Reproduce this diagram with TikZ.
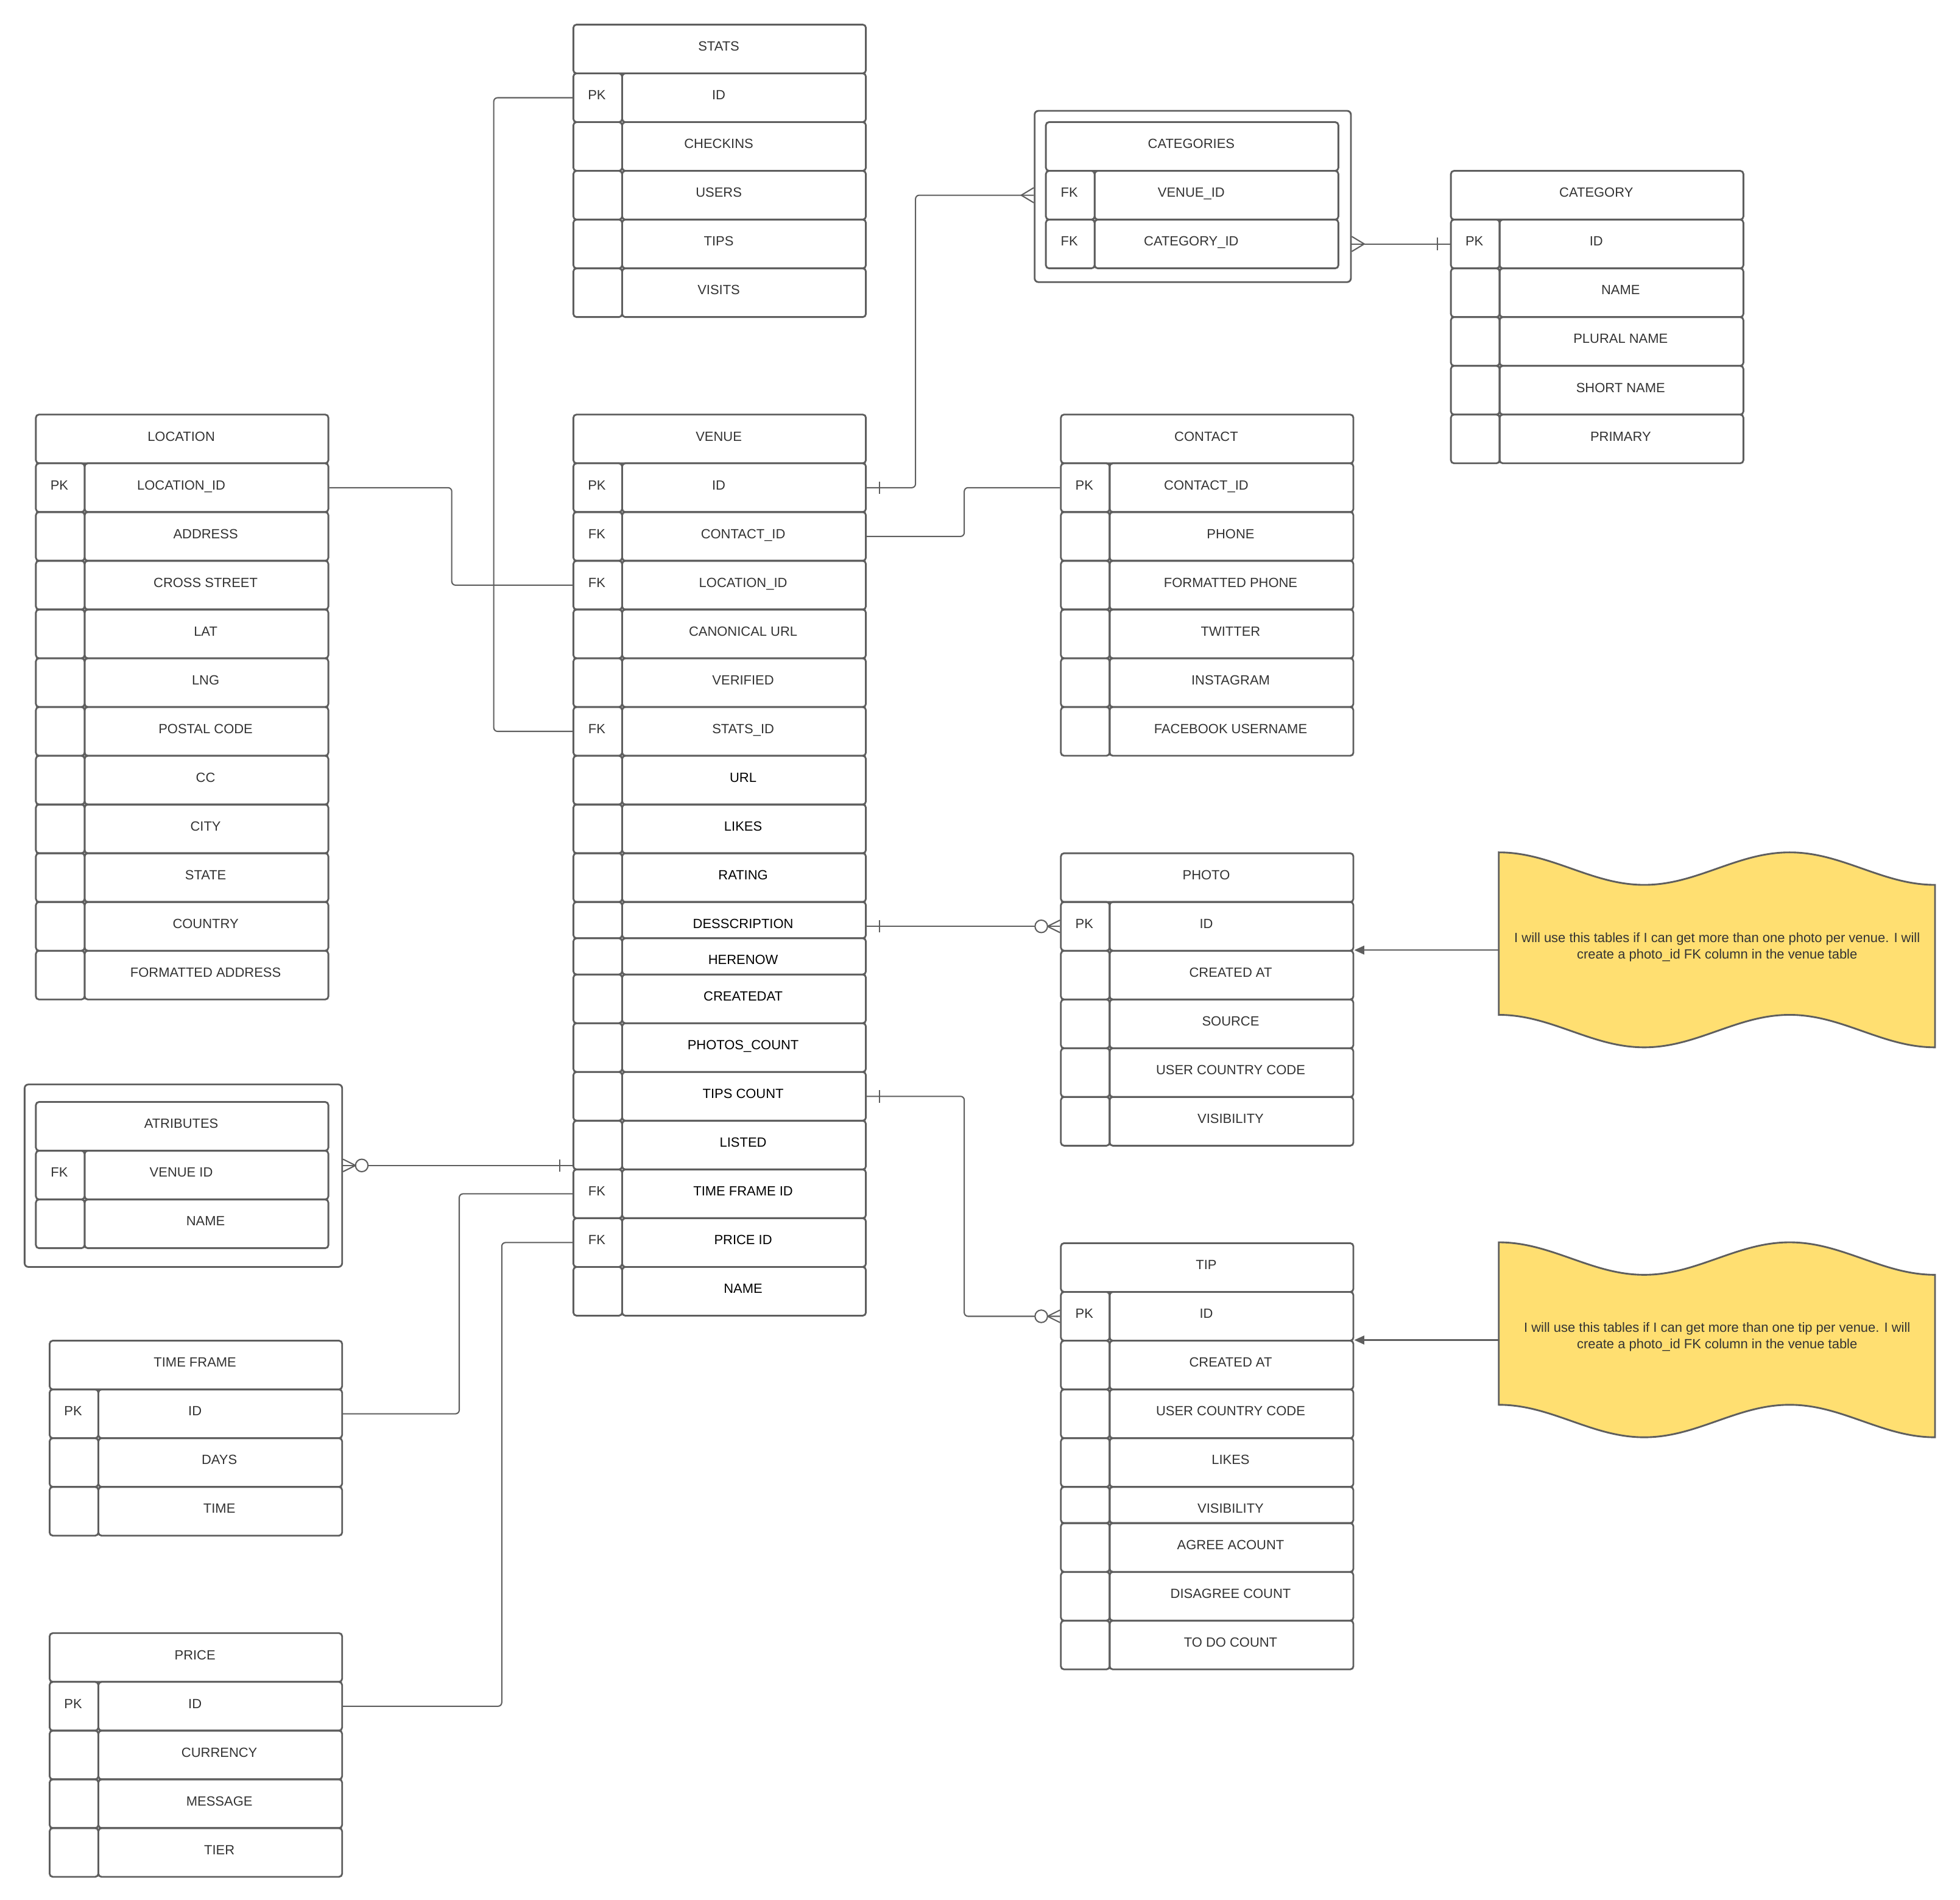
\documentclass[tikz,border=0pt]{standalone}
\usepackage{fontspec}
\setmainfont{Liberation Sans}
\usepackage{xcolor}
\usepackage{tikz}
\usetikzlibrary{calc, arrows.meta}

\definecolor{linegray}{RGB}{94,94,94}
\definecolor{txtgray}{RGB}{51,51,51}
\definecolor{noteyellow}{RGB}{255,223,113}
\newcommand{\tabfont}{\fontsize{10.7}{13}\selectfont}
\newcommand{\blk}{\color{black}}

\tikzset{
	tbl/.style = {draw=linegray, line width=1.4pt, rounded corners=2.5pt, inner sep=0pt, anchor=north west, minimum height=39pt},
	hdrcell/.style = {tbl, minimum width=234pt},
	keycell/.style = {tbl, minimum width=39pt},
	valcell/.style = {tbl, minimum width=195pt},
	outerbox/.style = {draw=linegray, line width=1.4pt, rounded corners=3pt, inner sep=0pt, anchor=north west},
	txt/.style = {anchor=base, inner sep=0pt, text=txtgray, font=\tabfont},
	link/.style = {draw=linegray, line width=1pt, rounded corners=3pt},
	marker/.style = {draw=linegray, line width=1pt},
	onebar/.pic = {\draw[marker] (10,-5) -- (10,5);},
	crowmany/.pic = {\draw[marker] (0,-6) -- (10,0) -- (0,6);},
	zeromany/.pic = {\draw[marker] (0,-5) -- (10,0) -- (0,5);
		\draw[marker, fill=white] (15,0) circle[radius=5pt];},
}

% #1 name, #2 left, #3 top, #4 title, #5 rows key/text/height/text offset
\newcommand{\ertable}[5]{%
	\node[hdrcell] (#1) at (#2,#3) {};
	\node[txt] (#1-t) at (#2+117,#3+21.8) {#4};
	\foreach \cK/\cT/\cH/\cX [count=\i, evaluate=\cH as \yb using \ya+\cH, remember=\yb as \ya (initially #3+39)] in {#5} {
		\node[keycell, minimum height=\cH] (#1-\i-k) at (#2,\ya) {};
		\node[valcell, minimum height=\cH] (#1-\i) at (#2+39,\ya) {};
		\node[txt] (#1-\i-kt) at (#2+19.5,\ya+21.8) {\cK};
		\node[txt] (#1-\i-t) at (#2+\cX,\ya+21.8) {\cT};
	}%
}

\begin{document}
\begin{tikzpicture}[x=1pt, y=-1pt]
	\path[fill=white] (0,0) rectangle (1568,1520.2);
	\useasboundingbox (0,0) rectangle (1568,1520.2);

	% tables
	\ertable{stats}{458}{19}{STATS}{PK/ID/39/117, /CHECKINS/39/117, /USERS/39/117, /TIPS/39/117, /VISITS/39/117}
	\ertable{location}{28}{331}{LOCATION}{PK/LOCATION\_ID/39/117, /ADDRESS/39/136.5, /CROSS STREET/39/136.5, /LAT/39/136.5, /LNG/39/136.5, /POSTAL CODE/39/136.5, /CC/39/136.5, /CITY/39/136.5, /STATE/39/136.5, /COUNTRY/39/136.5, /FORMATTED ADDRESS/39/136.5}
	\ertable{venue}{458}{331}{VENUE}{PK/ID/39/117, FK/CONTACT\_ID/39/136.5, FK/LOCATION\_ID/39/136.5, /CANONICAL URL/39/136.5, /VERIFIED/39/136.5, FK/STATS\_ID/39/136.5, /\blk URL/39/136.5, /\blk LIKES/39/136.5, /\blk RATING/39/136.5, /\blk DESSCRIPTION/29/136.5, /\blk HERENOW/29/136.5, /\blk CREATEDAT/39/136.5, /\blk PHOTOS\_COUNT/39/136.5, /\blk TIPS COUNT/39/136.5, /\blk LISTED/39/136.5, FK/\blk TIME FRAME ID/39/136.5, FK/\blk PRICE ID/39/136.5, /\blk NAME/39/136.5}

	\node[outerbox, minimum width=253pt, minimum height=137pt] (catbox) at (827,88) {};
	\ertable{categories}{836}{97}{CATEGORIES}{FK/VENUE\_ID/39/117, FK/CATEGORY\_ID/39/117}
	\ertable{category}{1160}{136}{CATEGORY}{PK/ID/39/117, /NAME/39/136.5, /PLURAL NAME/39/136.5, /SHORT NAME/39/136.5, /PRIMARY/39/136.5}
	\ertable{contact}{848}{331}{CONTACT}{PK/CONTACT\_ID/39/117, /PHONE/39/136.5, /FORMATTED PHONE/39/136.5, /TWITTER/39/136.5, /INSTAGRAM/39/136.5, /FACEBOOK USERNAME/39/136.5}
	\ertable{photo}{848}{682}{PHOTO}{PK/ID/39/117, /CREATED AT/39/136.5, /SOURCE/39/136.5, /USER COUNTRY CODE/39/136.5, /VISIBILITY/39/136.5}
	\ertable{tip}{848}{994}{TIP}{PK/ID/39/117, /CREATED AT/39/136.5, /USER COUNTRY CODE/39/136.5, /LIKES/39/136.5, /VISIBILITY/29/136.5, /AGREE ACOUNT/39/136.5, /DISAGREE COUNT/39/136.5, /TO DO COUNT/39/136.5}

	\node[outerbox, minimum width=254pt, minimum height=146pt] (atrbox) at (19,867) {};
	\ertable{atributes}{28}{881}{ATRIBUTES}{FK/VENUE ID/39/117, /NAME/39/136.5}
	\ertable{timeframe}{39}{1072}{TIME FRAME}{PK/ID/39/117, /DAYS/39/136.5, /TIME/39/136.5}
	\ertable{price}{39}{1306}{PRICE}{PK/ID/39/117, /CURRENCY/39/136.5, /MESSAGE/39/136.5, /TIER/39/136.5}

	% notes
	\foreach \n/\y/\what in {note1/682/photo, note2/994/tip} {
		\node[inner sep=0pt, anchor=north west, minimum width=349pt, minimum height=156pt] (\n) at (1199,\y) {};
		\draw[marker, line width=1.4pt, fill=noteyellow] (\n.north west)
			cos ++(58.17,13) sin ++(58.17,13) cos ++(58.17,-13) sin ++(58.17,-13) cos ++(58.17,13) sin ++(58.17,13)
			-- ++(0,130)
			cos ++(-58.17,-13) sin ++(-58.17,-13) cos ++(-58.17,13) sin ++(-58.17,13) cos ++(-58.17,-13) sin ++(-58.17,-13)
			-- cycle;
		\node[txt, anchor=center, align=center] (\n-t) at ($(\n.center)+(0,-2.5)$)
			{I will use this tables if I can get more than one \what{} per venue. I will\\create a photo\_id FK column in the venue table};
		\draw[link, -{Triangle[length=8pt, width=7pt]}] (\n.west) -- (\n.west -| \what-1.east);
	}

	% relations
	\draw[link] (stats-1-k.west) -- ++(-63,0) |- (venue-6-k.west);
	\draw[link] (location-1.east) -- ++(98,0) |- (venue-3-k.west);
	\draw[link] (venue-2.east) -- ++(78,0) |- (contact-1-k.west);
	\draw[link] (timeframe-1.east) -- ++(93,0) |- (venue-16-k.west);
	\draw[link] (price-1.east) -- ++(127,0) |- (venue-17-k.west);

	\draw[link] (venue-1.east) -- ++(39,0) |- (categories-1-k.west -| catbox.west);
	\pic at (venue-1.east) {onebar};
	\pic[rotate=180] at (categories-1-k.west -| catbox.west) {crowmany};

	\draw[link] (catbox.east |- categories-2.east) -- (category-1-k.west);
	\pic at (catbox.east |- categories-2.east) {crowmany};
	\pic[rotate=180] at (category-1-k.west) {onebar};

	\draw[link] (venue-10.east |- photo-1-k.west) -- (photo-1-k.west);
	\pic at (venue-10.east |- photo-1-k.west) {onebar};
	\pic[rotate=180] at (photo-1-k.west) {zeromany};

	\draw[link] (venue-14.east) -- ++(78,0) |- (tip-1-k.west);
	\pic at (venue-14.east) {onebar};
	\pic[rotate=180] at (tip-1-k.west) {zeromany};

	\coordinate (atrlink) at ($(venue-16-k.north west)+(0,-2.5)$);
	\draw[link] (atrbox.east |- atrlink) -- (atrlink);
	\pic at (atrbox.east |- atrlink) {zeromany};
	\pic[rotate=180] at (atrlink) {onebar};
\end{tikzpicture}
\end{document}
